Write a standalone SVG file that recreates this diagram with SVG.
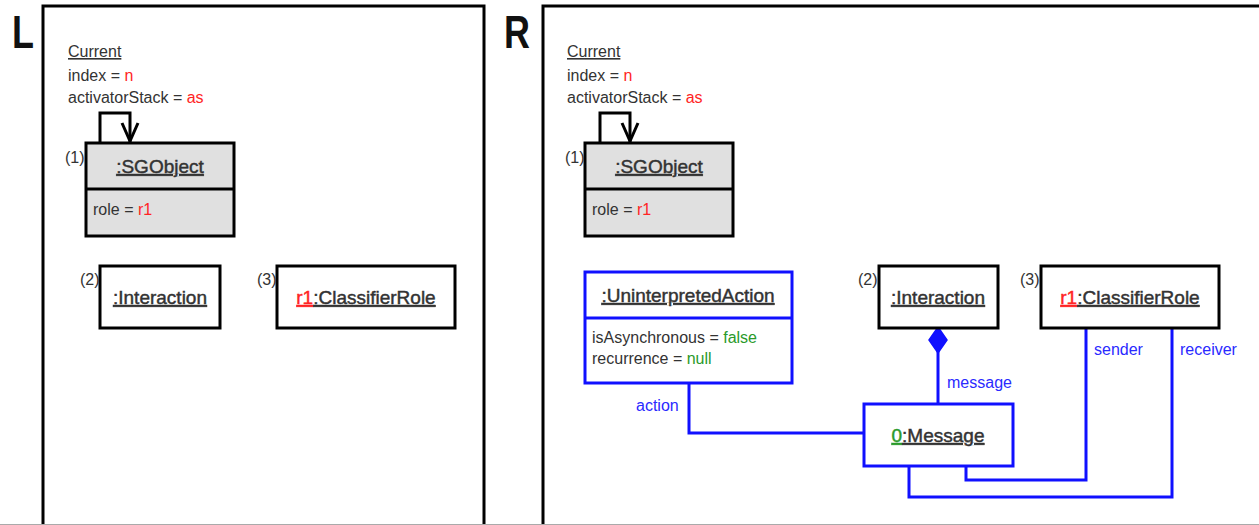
<svg xmlns="http://www.w3.org/2000/svg" width="1259" height="525" viewBox="0 0 1259 525">
  <style>
    text { font-family: "Liberation Sans", Arial, sans-serif; fill: #333; }
    .big { font-size: 46px; font-weight: bold; fill: #111; }
    .attr { font-size: 16px; }
    .title { font-size: 19px; text-anchor: middle; stroke: #333; stroke-width: 0.45; }
    .u { text-decoration: underline; }
    .red { fill: #ff2424; }
    .title .red { stroke: #ff2424; }
    .green { fill: #2a9a2a; }
    .title .green { stroke: #2a9a2a; }
    .role { font-size: 16px; fill: #2a2aff; }
    .frame { fill: none; stroke: #000; stroke-width: 3; }
    .box { fill: #fff; stroke: #000; stroke-width: 3; }
    .gbox { fill: #e0e0e0; stroke: #000; stroke-width: 3; }
    .bbox { fill: #fff; stroke: #1010ff; stroke-width: 3; }
    .link { fill: none; stroke: #1010ff; stroke-width: 3; }
    .loop { fill: none; stroke: #000; stroke-width: 3; }
  </style>
  <defs>
    <!-- open arrowhead, tip at the origin, pointing down -->
    <path id="openhead" d="M-8,-20 L0,-2 L8,-20" fill="none" stroke="#000" stroke-width="3"/>
  </defs>

  <!-- rule frames -->
  <g id="frames">
    <polyline class="frame" points="43,526 43,6 484,6 484,526"/>
    <polyline class="frame" points="543,526 543,6 1260,6"/>
    <line x1="0" y1="524.5" x2="1259" y2="524.5" stroke="#aaa" stroke-width="1"/>
    <text class="big" transform="translate(12,48) scale(0.78,1)">L</text>
    <text class="big" transform="translate(504,48) scale(0.78,1)">R</text>
  </g>

  <!-- left-hand side -->
  <g id="L-current">
    <text class="attr" x="68" y="57"><tspan class="u">Current</tspan></text>
    <text class="attr" x="68" y="81">index = <tspan class="red">n</tspan></text>
    <text class="attr" x="68" y="103">activatorStack = <tspan class="red">as</tspan></text>
    <polyline class="loop" points="100,143 100,113 130,113 130,143"/>
    <use href="#openhead" x="130" y="143"/>
  </g>
  <g id="L-sgobject">
    <rect class="gbox" x="86" y="143" width="148" height="93"/>
    <line x1="86" y1="189" x2="234" y2="189" stroke="#000" stroke-width="3"/>
    <text class="title u" x="160" y="173">:SGObject</text>
    <text class="attr" x="93" y="215">role = <tspan class="red">r1</tspan></text>
    <text class="attr" x="65" y="163">(1)</text>
  </g>
  <g id="L-interaction">
    <rect class="box" x="100" y="266" width="120" height="62"/>
    <text class="title u" x="160" y="304">:Interaction</text>
    <text class="attr" x="80" y="285">(2)</text>
  </g>
  <g id="L-classifierrole">
    <rect class="box" x="277" y="266" width="178" height="62"/>
    <text class="title" x="366" y="304"><tspan class="red u">r1</tspan><tspan class="u">:ClassifierRole</tspan></text>
    <text class="attr" x="257" y="285">(3)</text>
  </g>

  <!-- right-hand side -->
  <g id="R-current">
    <text class="attr" x="567" y="57"><tspan class="u">Current</tspan></text>
    <text class="attr" x="567" y="81">index = <tspan class="red">n</tspan></text>
    <text class="attr" x="567" y="103">activatorStack = <tspan class="red">as</tspan></text>
    <polyline class="loop" points="600,143 600,113 630,113 630,143"/>
    <use href="#openhead" x="630" y="143"/>
  </g>
  <g id="R-sgobject">
    <rect class="gbox" x="585" y="143" width="148" height="93"/>
    <line x1="585" y1="189" x2="733" y2="189" stroke="#000" stroke-width="3"/>
    <text class="title u" x="659" y="173">:SGObject</text>
    <text class="attr" x="592" y="215">role = <tspan class="red">r1</tspan></text>
    <text class="attr" x="565" y="163">(1)</text>
  </g>

  <!-- connectors -->
  <g id="connectors">
    <polyline class="link" points="689,383 689,433 864,433"/>
    <line class="link" x1="938" y1="340" x2="938" y2="404"/>
    <path d="M938,327 L947,340 L938,353 L929,340 Z" fill="#1010ff" stroke="#1010ff" stroke-width="1.5"/>
    <polyline class="link" points="1086,328 1086,480 966,480 966,463"/>
    <polyline class="link" points="1172,328 1172,497 909,497 909,463"/>
    <text class="role" x="636" y="411">action</text>
    <text class="role" x="947" y="388">message</text>
    <text class="role" x="1094" y="355">sender</text>
    <text class="role" x="1180" y="355">receiver</text>
  </g>

  <g id="R-action">
    <rect class="bbox" x="585" y="272" width="207" height="111"/>
    <line x1="585" y1="318" x2="792" y2="318" stroke="#1010ff" stroke-width="3"/>
    <text class="title u" x="688" y="302">:UninterpretedAction</text>
    <text class="attr" x="592" y="343">isAsynchronous = <tspan class="green">false</tspan></text>
    <text class="attr" x="592" y="364">recurrence = <tspan class="green">null</tspan></text>
  </g>
  <g id="R-interaction">
    <rect class="box" x="879" y="266" width="119" height="62"/>
    <text class="title u" x="938" y="304">:Interaction</text>
    <text class="attr" x="858" y="285">(2)</text>
  </g>
  <g id="R-classifierrole">
    <rect class="box" x="1041" y="266" width="178" height="62"/>
    <text class="title" x="1130" y="304"><tspan class="red u">r1</tspan><tspan class="u">:ClassifierRole</tspan></text>
    <text class="attr" x="1020" y="285">(3)</text>
  </g>
  <g id="R-message">
    <rect class="bbox" x="864" y="404" width="149" height="62"/>
    <text class="title" x="938" y="442"><tspan class="green u">0</tspan><tspan class="u">:Message</tspan></text>
  </g>
</svg>
